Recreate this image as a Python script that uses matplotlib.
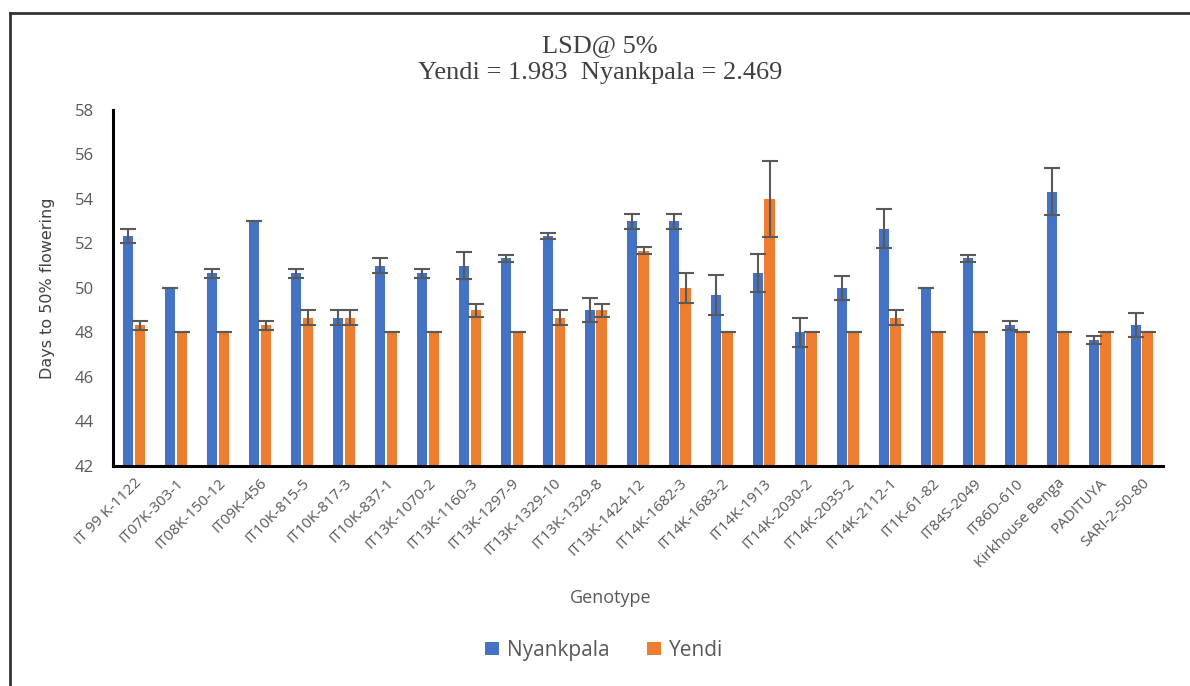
import matplotlib.pyplot as plt
from matplotlib.lines import Line2D
import numpy as np

genotypes = ["IT 99 K-1122", "IT07K-303-1", "IT08K-150-12", "IT09K-456", "IT10K-815-5",
             "IT10K-817-3", "IT10K-837-1", "IT13K-1070-2", "IT13K-1160-3", "IT13K-1297-9",
             "IT13K-1329-10", "IT13K-1329-8", "IT13K-1424-12", "IT14K-1682-3", "IT14K-1683-2",
             "IT14K-1913", "IT14K-2030-2", "IT14K-2035-2", "IT14K-2112-1", "IT1K-61-82",
             "IT84S-2049", "IT86D-610", "Kirkhouse Benga", "PADITUYA", "SARI-2-50-80"]

nyankpala = [52.33, 50.0, 50.67, 53.0, 50.67, 48.67, 51.0, 50.67, 51.0, 51.33,
             52.33, 49.0, 53.0, 53.0, 49.67, 50.67, 48.0, 50.0, 52.67, 50.0,
             51.33, 48.33, 54.33, 47.67, 48.33]
nyankpala_err = [0.33, 0.0, 0.2, 0.0, 0.2, 0.35, 0.33, 0.2, 0.6, 0.15,
                 0.15, 0.55, 0.33, 0.33, 0.9, 0.85, 0.67, 0.55, 0.88, 0.0,
                 0.15, 0.2, 1.05, 0.17, 0.55]

yendi = [48.33, 48.0, 48.0, 48.33, 48.67, 48.67, 48.0, 48.0, 49.0, 48.0,
         48.67, 49.0, 51.67, 50.0, 48.0, 54.0, 48.0, 48.0, 48.67, 48.0,
         48.0, 48.0, 48.0, 48.0, 48.0]
yendi_err = [0.2, 0.0, 0.0, 0.2, 0.35, 0.35, 0.0, 0.0, 0.3, 0.0,
             0.35, 0.3, 0.15, 0.67, 0.0, 1.72, 0.0, 0.0, 0.35, 0.0,
             0.0, 0.0, 0.0, 0.0, 0.0]

blue = "#4472C4"
orange = "#ED7D31"
grey = "#595959"

fig = plt.figure(figsize=(11.9, 6.86), dpi=100)
ax = fig.add_axes([0.095, 0.3207, 0.882, 0.519])

x = np.arange(len(genotypes))
w = 0.25
ekw = dict(ecolor=grey, elinewidth=1.5, capsize=5.5, capthick=1.5)
ax.bar(x - 0.14, nyankpala, w, yerr=nyankpala_err, color=blue, label="Nyankpala",
       error_kw=ekw)
ax.bar(x + 0.14, yendi, w, yerr=yendi_err, color=orange, label="Yendi", error_kw=ekw)

ax.set_ylim(42, 58)
ax.set_xlim(-0.5, len(genotypes) - 0.5)
ax.set_yticks(range(42, 59, 2))
ax.set_xticks(x)
ax.set_xticklabels(genotypes, rotation=45, ha="right", rotation_mode="anchor",
                   fontsize=11, color=grey, family="Open Sans")
ax.tick_params(axis="y", labelsize=12, labelcolor=grey, length=0, pad=14)
ax.tick_params(axis="x", length=0, pad=7)
for lab in ax.get_yticklabels():
    lab.set_family("Open Sans")

for side in ["top", "right"]:
    ax.spines[side].set_visible(False)
ax.spines["left"].set_linewidth(2.2)
ax.spines["bottom"].set_linewidth(2.2)

ax.set_ylabel("Days to 50% flowering", fontsize=11.5, color="#404040",
              family="Liberation Sans Narrow", labelpad=14)
fig.text(0.513, 0.128, "Genotype", ha="center", va="center", fontsize=13,
         color=grey, family="Open Sans")

fig.text(0.504, 0.933, "LSD@ 5%", ha="center", va="center", fontsize=19,
         color="#404040", family="Liberation Serif")
fig.text(0.504, 0.894, "Yendi = 1.983  Nyankpala = 2.469", ha="center", va="center",
         fontsize=19, color="#404040", family="Liberation Serif")

leg = fig.legend(loc="center", bbox_to_anchor=(0.508, 0.052), ncol=2, frameon=False,
                 prop={"family": "Open Sans", "size": 15}, handlelength=0.65,
                 handleheight=0.65, columnspacing=1.8, handletextpad=0.4)
for t in leg.get_texts():
    t.set_color(grey)

# chart frame (top and left edges)
fig.add_artist(Line2D([0.0085, 1.0], [0.981, 0.981], transform=fig.transFigure,
                      color="#333333", lw=2))
fig.add_artist(Line2D([0.0085, 0.0085], [0.0, 0.981], transform=fig.transFigure,
                      color="#333333", lw=2))

fig.savefig("out.png", dpi=100)
